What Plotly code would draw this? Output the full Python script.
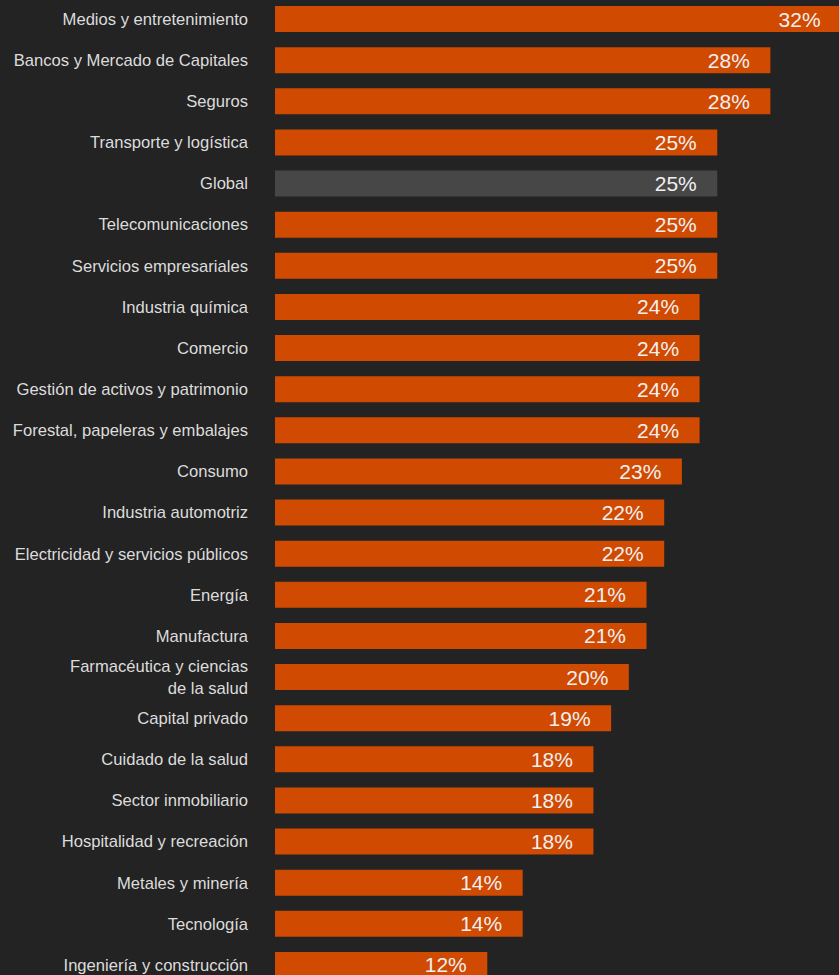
import plotly.graph_objects as go

# Sectors, top to bottom, with their share in percent
sectors = [
    "Medios y entretenimiento",
    "Bancos y Mercado de Capitales",
    "Seguros",
    "Transporte y logística",
    "Global",
    "Telecomunicaciones",
    "Servicios empresariales",
    "Industria química",
    "Comercio",
    "Gestión de activos y patrimonio",
    "Forestal, papeleras y embalajes",
    "Consumo",
    "Industria automotriz",
    "Electricidad y servicios públicos",
    "Energía",
    "Manufactura",
    "Farmacéutica y ciencias<br>de la salud",
    "Capital privado",
    "Cuidado de la salud",
    "Sector inmobiliario",
    "Hospitalidad y recreación",
    "Metales y minería",
    "Tecnología",
    "Ingeniería y construcción",
]
values = [32, 28, 28, 25, 25, 25, 25, 24, 24, 24, 24, 23, 22, 22, 21, 21, 20, 19, 18, 18, 18, 14, 14, 12]

BG = "#232323"
ORANGE = "#d04a02"
GREY = "#474747"
colors = [GREY if s == "Global" else ORANGE for s in sectors]

W, H = 839, 975
LEFT = 275
X_MAX = 31.88          # the longest bar runs just past the right edge
ROW = 41.13
FIRST_CENTER = 19

top_val = -FIRST_CENTER / ROW
bottom_val = top_val + H / ROW

fig = go.Figure(
    go.Bar(
        x=values,
        y=sectors,
        orientation="h",
        marker=dict(color=colors, line=dict(width=0)),
        width=0.632,
        text=[f"{v}%" + "\u00a0" * 3 for v in values],
        textposition="inside",
        insidetextanchor="end",
        insidetextfont=dict(color="#f0f0f0", size=21, family="Liberation Sans, Arial, sans-serif"),
        constraintext="none",
        cliponaxis=True,
        hoverinfo="skip",
    )
)

fig.update_layout(
    width=W,
    height=H,
    margin=dict(l=LEFT, r=0, t=0, b=0),
    paper_bgcolor=BG,
    plot_bgcolor=BG,
    showlegend=False,
    font=dict(family="Liberation Sans, Arial, sans-serif", color="#dcdcdc", size=16.6),
)
fig.update_xaxes(
    range=[0, X_MAX],
    visible=False,
    showgrid=False,
    zeroline=False,
    fixedrange=True,
)
fig.update_yaxes(
    type="category",
    categoryorder="array",
    categoryarray=sectors,
    range=[bottom_val, top_val],
    showgrid=False,
    zeroline=False,
    showline=False,
    ticks="",
    ticklabelstandoff=26,
    tickfont=dict(size=16.6, color="#dcdcdc"),
    fixedrange=True,
)

fig.write_html("out.html", config={"displayModeBar": False})
